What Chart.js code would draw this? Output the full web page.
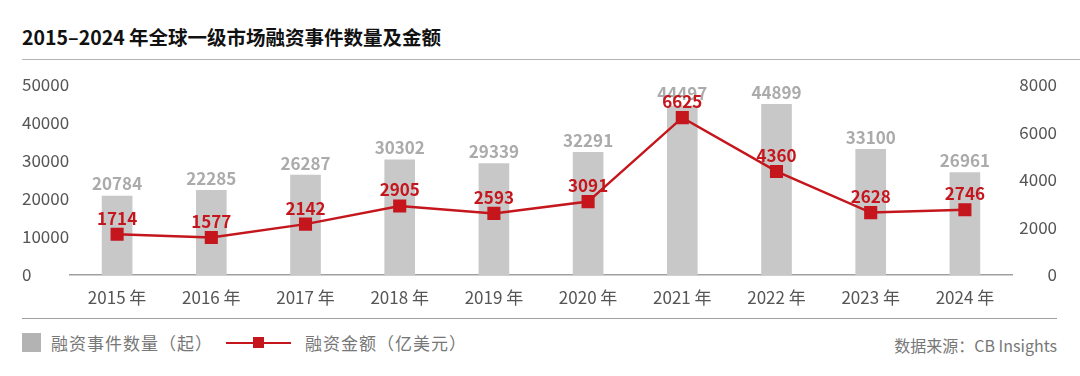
<!DOCTYPE html>
<html>
<head>
<meta charset="utf-8">
<script src="https://cdn.jsdelivr.net/npm/chart.js@4.4.1/dist/chart.umd.min.js"></script>
<style>
  html, body { margin: 0; padding: 0; background: #fff; }
  body { width: 1080px; height: 376px; position: relative; overflow: hidden;
    font-family: "Noto Sans CJK SC", "Noto Sans", sans-serif; }
  .title { position: absolute; left: 22px; top: 23px; font-size: 19.5px; font-weight: bold; color: #111; line-height: 28px; white-space: nowrap; }
  .rule { position: absolute; height: 0; border-top: 1.5px solid #b4b4b4; }
  #wrap { position: absolute; left: 0; top: 60px; width: 1080px; height: 255px; }
  .legend { position: absolute; top: 331px; left: 22px; height: 24px; font-size: 17px; color: #777; line-height: 24px; white-space: nowrap; }
  .legend span { position: absolute; top: 0; letter-spacing: 1px; }
  .sw { position: absolute; left: 0; top: 2px; width: 19px; height: 19px; background: #b3b3b3; }
  .ln { position: absolute; left: 204px; top: 11px; width: 65px; height: 2px; background: #c4161c; }
  .mk { position: absolute; left: 231px; top: 6px; width: 11px; height: 11px; background: #c4161c; }
  .src { position: absolute; right: 23px; top: 333px; font-size: 16px; color: #777; line-height: 24px; white-space: nowrap; }
</style>
</head>
<body>
<div class="title">2015–2024 年全球一级市场融资事件数量及金额</div>
<div class="rule" style="left:22px; top:59px; width:1058px;"></div>
<div id="wrap"><canvas id="mainChart"></canvas></div>
<div class="rule" style="left:22px; top:318px; width:1035px; border-top-color:#a0a0a0;"></div>
<div class="legend">
  <div class="sw"></div>
  <span style="left:29px;">融资事件数量（起）</span>
  <div class="ln"></div>
  <div class="mk"></div>
  <span style="left:283px;">融资金额（亿美元）</span>
</div>
<div class="src">数据来源：CB Insights</div>

<script>
/* ---------- DATA ---------- */
const years = ["2015 年","2016 年","2017 年","2018 年","2019 年","2020 年","2021 年","2022 年","2023 年","2024 年"]
const dealCounts = [20784,22285,26287,30302,29339,32291,44497,44899,33100,26961]
const dealAmounts = [1714,1577,2142,2905,2593,3091,6625,4360,2628,2746]
const leftTicks = [0,10000,20000,30000,40000,50000]
const rightTicks = [0,2000,4000,6000,8000]

const FONT = '"Noto Sans CJK SC", "Noto Sans", sans-serif'

/* ---------- VALUE LABELS ---------- */
const valueLabels = {
  id: 'valueLabels',
  afterDatasetsDraw(chart) {
    const ctx = chart.ctx
    ctx.save()
    ctx.textAlign = 'center'
    ctx.textBaseline = 'middle'
    ctx.font = 'bold 17px ' + FONT
    // bars (dataset 1)
    ctx.fillStyle = '#ababab'
    chart.getDatasetMeta(1).data.forEach((bar, i) => {
      ctx.fillText(dealCounts[i], bar.x, bar.y - 12)
    })
    // line (dataset 0)
    ctx.fillStyle = '#c4161c'
    chart.getDatasetMeta(0).data.forEach((pt, i) => {
      ctx.fillText(dealAmounts[i], pt.x, pt.y - 16)
    })
    ctx.restore()
  }
}

const plainTick = v => String(v)

try {
  new Chart(document.getElementById("mainChart"), {
    data: {
      labels: years,
      datasets: [
        {
          type: 'line',
          label: "融资金额（亿美元）",
          data: dealAmounts,
          yAxisID: 'y1',
          borderColor: "#c4161c",
          backgroundColor: "#c4161c",
          borderWidth: 2.5,
          pointStyle: 'rect',
          pointRadius: 7.5,
          pointHoverRadius: 7.5,
          tension: 0,
          order: 0
        },
        {
          type: 'bar',
          label: "融资事件数量（起）",
          data: dealCounts,
          yAxisID: 'y',
          backgroundColor: "#c8c8c8",
          barThickness: 30,
          order: 1
        }
      ]
    },
    options: {
      responsive: true,
      maintainAspectRatio: false,
      animation: false,
      layout: { padding: { left: 22, right: 23, top: 25, bottom: 0 } },
      plugins: { legend: { display: false }, tooltip: { enabled: false } },
      scales: {
        x: {
          grid: { display: false, drawTicks: false },
          border: { display: true, color: '#a0a0a0', width: 1.5 },
          ticks: { color: '#555', font: { family: FONT, size: 17 }, padding: 12, maxRotation: 0 },
          afterFit(s) { s.height = 40 }
        },
        y: {
          position: 'left',
          min: 0, max: 50000,
          afterBuildTicks(s) { s.ticks = leftTicks.map(v => ({ value: v })) },
          grid: { display: false, drawTicks: false },
          border: { display: false },
          ticks: { color: '#555', font: { family: FONT, size: 17 }, crossAlign: 'far', callback: plainTick },
          afterFit(s) { s.width = 48 }
        },
        y1: {
          position: 'right',
          min: 0, max: 8000,
          afterBuildTicks(s) { s.ticks = rightTicks.map(v => ({ value: v })) },
          grid: { display: false, drawTicks: false },
          border: { display: false },
          ticks: { color: '#555', font: { family: FONT, size: 17 }, crossAlign: 'far', callback: plainTick },
          afterFit(s) { s.width = 45 }
        }
      }
    },
    plugins: [valueLabels]
  })
} catch(e) {
  console.error('Error initializing main chart:', e)
}
</script>
</body>
</html>
